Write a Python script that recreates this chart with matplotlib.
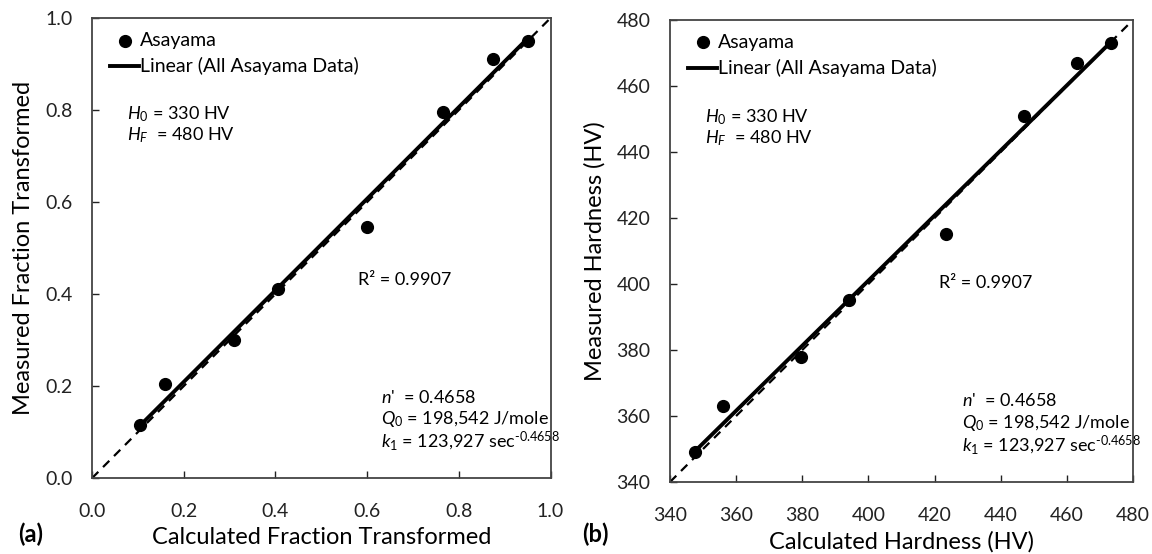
import numpy as np
import matplotlib.pyplot as plt

plt.rcParams['font.family'] = ['Lato', 'DejaVu Sans']
plt.rcParams['mathtext.fontset'] = 'custom'
plt.rcParams['mathtext.rm'] = 'Lato'
plt.rcParams['mathtext.it'] = 'Lato:italic'

# panel (a): fraction transformed
calc_frac = [0.105, 0.16, 0.31, 0.405, 0.60, 0.765, 0.875, 0.95]
meas_frac = [0.115, 0.205, 0.30, 0.41, 0.545, 0.795, 0.91, 0.95]

# panel (b): hardness (HV)
calc_hv = [347.5, 356, 379.5, 394, 423.5, 447, 463, 473.5]
meas_hv = [349, 363, 378, 395, 415, 451, 467, 473]

frac_ticks = [0.0, 0.2, 0.4, 0.6, 0.8, 1.0]
hv_ticks = [340, 360, 380, 400, 420, 440, 460, 480]

fig = plt.figure(figsize=(11.52, 5.54), dpi=100)
ax1 = fig.add_axes([0.0799, 0.137, 0.398, 0.8305])
ax2 = fig.add_axes([0.5816, 0.130, 0.4019, 0.834])

def panel(ax, x, y, ticks, fmt, xlabel, ylabel):
    lo, hi = ticks[0], ticks[-1]
    ax.plot([lo, hi], [lo, hi], ls=(0, (4, 3)), color='black', lw=1.6, zorder=1)
    m, b = np.polyfit(x, y, 1)
    xx = np.array([min(x), max(x)])
    ax.plot(xx, m * xx + b, color='black', lw=2.8, zorder=2,
            label='Linear (All Asayama Data)')
    ax.scatter(x, y, s=72, color='black', zorder=3, label='Asayama')
    ax.set_xlim(lo, hi)
    ax.set_ylim(lo, hi)
    ax.set_xticks(ticks)
    ax.set_yticks(ticks)
    ax.set_xticklabels([fmt.format(t) for t in ticks])
    ax.set_yticklabels([fmt.format(t) for t in ticks])
    ax.tick_params(direction='in', length=5, width=1, labelsize=14,
                   colors='#222222')
    ax.tick_params(axis='x', pad=18)
    ax.tick_params(axis='y', pad=14)
    for s in ax.spines.values():
        s.set_color('#444444')
        s.set_linewidth(1.3)
    ax.set_xlabel(xlabel, fontsize=17, labelpad=5)
    ax.set_ylabel(ylabel, fontsize=17, labelpad=8)
    h, l = ax.get_legend_handles_labels()
    ax.legend([h[1], h[0]], [l[1], l[0]], loc='upper left', frameon=False,
              fontsize=14, handlelength=1.5, handletextpad=0.05,
              borderaxespad=0.3, labelspacing=0.45, bbox_to_anchor=(0.01, 1.0))

panel(ax1, calc_frac, meas_frac, frac_ticks, '{:.1f}',
      'Calculated Fraction Transformed', 'Measured Fraction Transformed')
panel(ax2, calc_hv, meas_hv, hv_ticks, '{:d}',
      'Calculated Hardness (HV)', 'Measured Hardness (HV)')

for ax in (ax1, ax2):
    t = dict(transform=ax.transAxes, fontsize=13, va='center', ha='left')
    ax.text(0.076, 0.79, r'$H_0$ = 330 HV', **t)
    ax.text(0.076, 0.745, r'$H_F$  = 480 HV', **t)
    ax.text(0.58, 0.43, 'R² = 0.9907', **t)
    ax.text(0.63, 0.176, r"$n$'  = 0.4658", **t)
    ax.text(0.63, 0.128, r'$Q_0$ = 198,542 J/mole', **t)
    ax.text(0.63, 0.080, r'$k_1$ = 123,927 sec$^{‐0.4658}$', **t)

fig.text(0.016, 0.035, '(a)', fontsize=17, fontweight='bold', va='center')
fig.text(0.505, 0.035, '(b)', fontsize=17, fontweight='bold', va='center')

fig.savefig('out.png', dpi=100)
